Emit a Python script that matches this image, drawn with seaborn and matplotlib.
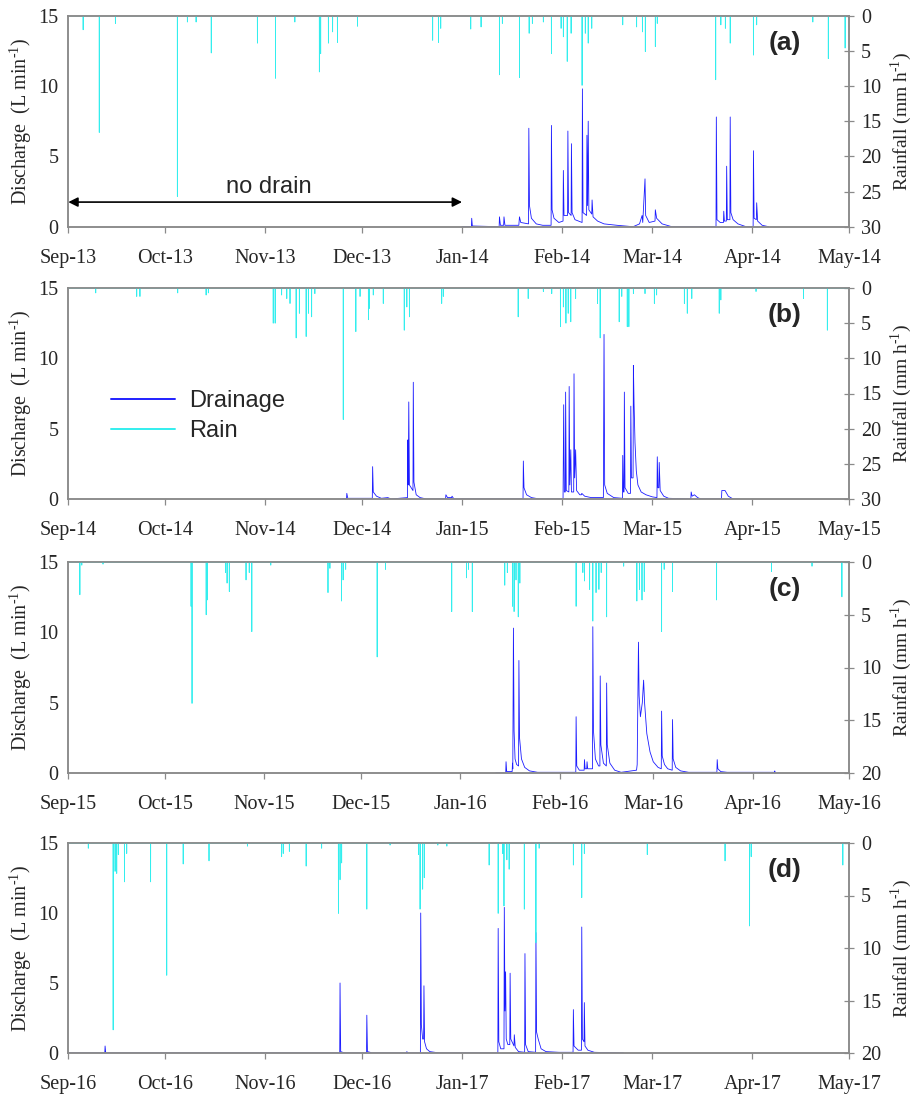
import numpy as np
import pandas as pd
import matplotlib
matplotlib.use("Agg")
import matplotlib.pyplot as plt
import matplotlib.dates as mdates
from matplotlib.lines import Line2D
import seaborn as sns

sns.set_style("white")
plt.rcParams["font.family"] = ["Liberation Serif", "DejaVu Serif"]
plt.rcParams["mathtext.fontset"] = "custom"
plt.rcParams["mathtext.rm"] = "Liberation Serif"

# ---------------- data (days since 1 Sep of each season) ----------------
season_start = ["2013-09-01", "2014-09-01", "2015-09-01", "2016-09-01"]
season_end = ["2014-05-01", "2015-05-01", "2016-05-01", "2017-05-01"]
panel_tags = ["(a)", "(b)", "(c)", "(d)"]
rain_max = [30, 30, 20, 20]

a_rain_day = [4.6, 9.6, 14.6, 33.8, 36.9, 39.6, 44.3, 58.6, 64.2, 70.2, 77.8, 78.2, 80.6, 81.9,
              83.4, 89.6, 112.9, 114.7, 115.4, 124.7, 127.9, 133.6, 134.5, 139.8, 142.8, 143.8,
              147.2, 149.7, 152.7, 153.4, 154.6, 155.8, 159.2, 160.2, 161.1, 162.2, 171.8, 176.1,
              177.9, 178.8, 181.9, 182.5, 200.6, 202.2, 203.6, 205.1, 212.3, 213.3, 230.7, 235.5, 240.7]
a_rain_mm = [2.0, 16.6, 1.1, 25.7, 0.9, 0.9, 5.3, 3.9, 8.9, 0.9, 8.0, 5.4, 3.9, 2.3,
             3.8, 1.5, 3.5, 3.8, 1.8, 1.9, 1.6, 8.4, 1.1, 8.8, 2.5, 1.1,
             0.9, 5.4, 1.8, 3.0, 6.5, 2.5, 9.9, 2.5, 3.9, 1.8, 1.3, 1.6,
             2.3, 5.1, 4.4, 1.1, 9.1, 1.3, 1.8, 3.9, 5.6, 1.3, 0.9, 6.1, 4.6]

b_rain_day = [8.5, 21.2, 22.2, 33.9, 42.7, 43.4, 63.5, 64.1, 66.1, 67.7, 68.7, 70.6, 71.6, 73.7,
              74.4, 75.4, 76.4, 85.2, 89.1, 90.4, 93.0, 93.3, 94.5, 97.6, 104.1, 104.9, 105.7,
              115.7, 116.2, 139.4, 142.5, 147.2, 149.8, 152.5, 153.4, 154.2, 154.9, 155.7, 157.2,
              164.0, 164.8, 170.7, 171.5, 173.2, 173.7, 175.1, 178.7, 181.6, 182.3, 190.9, 191.8,
              193.2, 201.7, 202.2, 213.1, 227.8, 235.2]
b_rain_mm = [0.7, 1.2, 1.2, 0.7, 1.0, 0.7, 5.0, 5.0, 1.0, 1.5, 2.2, 7.1, 3.6, 6.9,
             3.6, 4.1, 0.8, 18.7, 6.2, 1.2, 4.5, 2.9, 1.0, 2.2, 6.0, 2.7, 4.1,
             2.2, 1.2, 4.1, 1.5, 0.5, 0.8, 5.5, 2.7, 5.0, 3.6, 4.8, 1.5,
             2.2, 7.1, 4.8, 1.2, 5.5, 5.5, 0.8, 0.8, 2.2, 1.0, 2.2, 3.6,
             1.5, 3.6, 1.7, 0.5, 1.5, 6.0]

c_rain_day = [3.6, 4.2, 10.8, 38.2, 38.5, 42.9, 43.2, 48.9, 49.4, 50.1, 55.3, 56.3, 57.1, 63.0,
              80.8, 81.4, 85.0, 85.5, 86.3, 96.1, 98.7, 119.3, 123.9, 124.5, 125.7, 135.8, 136.6,
              138.2, 138.7, 139.3, 140.0, 140.5, 158.0, 160.1, 160.6, 162.2, 163.2, 164.2, 165.1,
              165.8, 167.5, 172.8, 176.9, 177.7, 178.5, 179.2, 184.6, 185.4, 188.0, 201.7, 218.8,
              231.4, 240.7]
c_rain_mm = [3.1, 0.3, 0.2, 4.2, 13.4, 5.0, 3.6, 1.0, 2.0, 2.8, 1.7, 1.0, 6.6, 0.3,
             2.9, 0.6, 3.7, 1.7, 0.7, 9.0, 0.7, 4.7, 1.5, 0.7, 4.7, 2.2, 1.0,
             4.2, 4.7, 1.7, 5.2, 2.0, 4.2, 1.0, 1.8, 2.6, 5.6, 2.9, 2.6,
             1.0, 5.2, 0.4, 3.7, 2.6, 3.6, 2.8, 6.6, 0.7, 2.8, 3.6, 0.9,
             0.4, 3.3]

d_rain_day = [6.2, 13.9, 14.5, 15.0, 15.5, 17.4, 18.1, 25.5, 30.5, 35.6, 43.6, 55.5, 66.1, 66.6,
              68.5, 73.7, 78.5, 83.7, 84.2, 84.7, 92.5, 99.7, 108.5, 109.0, 109.8, 110.3, 114.5,
              117.3, 130.4, 133.2, 134.6, 135.0, 135.9, 136.6, 141.3, 144.9, 145.9, 156.5, 159.1,
              159.9, 179.4, 203.5, 211.1, 211.6, 240.0]
d_rain_mm = [0.5, 17.8, 2.7, 2.9, 1.1, 3.7, 1.0, 3.7, 12.6, 2.0, 1.7, 0.3, 1.3, 1.0,
             0.8, 2.2, 0.5, 6.7, 3.5, 1.9, 6.3, 0.2, 1.1, 6.3, 4.4, 3.3, 0.2,
             0.3, 2.1, 6.7, 1.0, 6.0, 1.6, 2.5, 6.3, 9.5, 0.5, 2.1, 5.2,
             1.0, 1.1, 1.7, 7.9, 1.3, 2.1]

# drainage hydrograph points (day, discharge L/min)
a_drain = [(122.0, 0), (124.9, 0), (125.0, 0.6), (125.2, 0.05), (133.5, 0), (133.6, 0.7), (133.9, 0.1),
           (134.9, 0.1), (135.0, 0.7), (135.3, 0.1), (139.6, 0.1), (139.8, 0.7), (140.2, 0.3),
           (142.6, 0.2), (142.7, 7.0), (142.9, 1.5), (143.5, 0.6), (145, 0.2), (147, 0.1),
           (149.6, 0.1), (149.7, 7.2), (149.9, 1.2), (150.5, 0.6), (152, 0.3), (153.3, 0.4),
           (153.4, 4.0), (153.6, 0.8), (154.7, 0.8), (154.8, 6.8), (155.0, 1.0), (155.8, 0.8),
           (155.9, 5.9), (156.1, 1.0), (157, 0.5), (159.2, 0.3), (159.3, 9.8), (159.5, 1.0),
           (160.6, 0.8), (160.7, 6.5), (160.9, 1.5), (161.1, 7.5), (161.3, 1.2), (162.2, 0.9),
           (162.3, 1.9), (162.6, 0.7), (164, 0.4), (166, 0.2), (170, 0.1), (175, 0), (177.0, 0.2),
           (177.8, 0.8), (178.0, 0.3), (178.7, 3.4), (178.9, 0.8), (180, 0.3), (181.8, 0.4),
           (181.9, 1.2), (182.3, 0.6), (184, 0.2), (187, 0), (200.7, 0), (200.8, 7.8), (201.0, 0.5),
           (202, 0.3), (203.0, 0.3), (203.1, 1.1), (203.3, 0.4), (203.9, 0.4), (204.0, 4.3),
           (204.2, 0.5), (205.0, 0.5), (205.1, 7.8), (205.3, 1.0), (206, 0.5), (207.5, 0.2),
           (210, 0), (212.2, 0), (212.3, 5.4), (212.5, 0.6), (213.2, 0.5), (213.3, 1.7),
           (213.6, 0.4), (215, 0.1), (217, 0)]

b_drain = [(85.0, 0), (86.2, 0), (86.3, 0.4), (86.6, 0.05), (94.2, 0.05), (94.3, 2.3), (94.5, 0.5),
           (95.5, 0.2), (97, 0.05), (99.0, 0.1), (100, 0), (105.1, 0.1), (105.2, 4.2), (105.35, 1.0),
           (105.5, 6.9), (105.7, 1.0), (106.8, 0.6), (106.9, 8.3), (107.1, 1.2), (107.8, 0.3),
           (109, 0.1), (111, 0), (116.9, 0), (117.0, 0.3), (117.5, 0.1), (118.8, 0.1), (118.9, 0.2),
           (119.5, 0), (140.9, 0), (141.0, 2.7), (141.2, 0.8), (142, 0.3), (143.5, 0.1), (146, 0),
           (153.3, 0), (153.5, 6.7), (153.7, 0.5), (154.0, 0.5), (154.1, 7.6), (154.3, 0.6),
           (155.1, 0.5), (155.2, 8.0), (155.4, 1.0), (155.7, 3.5), (155.9, 0.5), (156.6, 0.5),
           (156.7, 8.9), (156.9, 1.5), (157.2, 3.5), (157.5, 0.6), (158.5, 0.3), (159.0, 0.3),
           (159.1, 0.4), (160, 0.2), (162, 0.1), (165.8, 0.1), (166.0, 11.7), (166.2, 1.0),
           (167, 0.4), (169, 0.1), (171.7, 0.05), (171.8, 3.1), (172.0, 0.5), (172.2, 0.5),
           (172.3, 7.6), (172.5, 0.8), (173.5, 0.4), (174.2, 0.4), (174.3, 6.6), (174.5, 1.5),
           (175.0, 1.5), (175.1, 9.5), (175.3, 6.8), (175.6, 4.0), (176, 2.0), (176.5, 1.0),
           (177.5, 0.5), (179, 0.3), (181, 0.15), (182.4, 0.1), (182.5, 3.0), (182.7, 0.8),
           (183.0, 0.8), (183.1, 2.6), (183.4, 0.6), (184.5, 0.2), (186, 0.05), (192.9, 0),
           (193.0, 0.5), (193.3, 0.2), (194, 0.3), (195, 0.1), (196, 0), (202.4, 0), (202.5, 0.6),
           (203.5, 0.6), (204.5, 0.2), (206, 0), (208, 0)]

c_drain = [(133, 0), (136.1, 0), (136.2, 0.8), (136.4, 0.1), (138.1, 0.1), (138.2, 0.7), (138.3, 0.3),
           (138.5, 10.3), (138.7, 3.0), (139.0, 1.0), (139.5, 0.6), (140.1, 0.5), (140.2, 8.0),
           (140.4, 2.5), (141, 1.0), (142, 0.4), (143.5, 0.15), (146, 0.05), (157.9, 0.05),
           (158.0, 4.0), (158.2, 0.5), (159, 0.2), (160.5, 0.2), (160.6, 0.95), (160.8, 0.3),
           (161.3, 0.3), (161.4, 0.8), (161.6, 0.3), (163.1, 0.3), (163.2, 10.4), (163.4, 3.0),
           (164, 1.0), (165, 0.5), (165.4, 0.5), (165.5, 6.9), (165.7, 2.0), (166.5, 0.7),
           (167.4, 0.5), (167.5, 6.4), (167.7, 2.0), (168.5, 0.7), (170, 0.2), (172, 0.05),
           (176.8, 0.2), (177.0, 0.6), (177.4, 9.3), (177.6, 5.5), (178, 4.0), (178.6, 5.0),
           (179.0, 6.6), (179.3, 5.0), (180, 2.8), (181, 1.5), (182, 0.8), (183.5, 0.4),
           (184.5, 0.3), (184.6, 4.4), (184.8, 1.2), (185.5, 0.6), (186.5, 0.3), (187.9, 0.2),
           (188.0, 3.8), (188.2, 1.0), (189, 0.4), (190.5, 0.15), (193, 0.05), (201.8, 0.05),
           (201.9, 0.95), (202.1, 0.3), (203, 0.1), (205, 0.05), (210, 0.05), (215, 0.05),
           (219.7, 0.05), (219.8, 0.15), (220, 0)]

d_drain = [(0, 0), (11.3, 0), (11.4, 0.5), (11.6, 0), (84.1, 0), (84.2, 5.0), (84.4, 0.1), (85, 0.05),
           (86, 0), (92.4, 0), (92.5, 2.7), (92.7, 0.1), (93.5, 0.05), (94, 0), (104.8, 0),
           (104.9, 0.1), (105.2, 0), (109.1, 0), (109.2, 10.0), (109.4, 2.0), (109.8, 1.0),
           (110.1, 1.0), (110.2, 4.8), (110.4, 0.8), (111, 0.3), (112, 0.1), (113.5, 0.05),
           (115, 0), (133.1, 0), (133.2, 8.9), (133.4, 0.8), (134, 0.3), (135.0, 0.3),
           (135.1, 10.4), (135.3, 3.0), (135.5, 5.8), (135.7, 1.0), (136.2, 0.6), (136.8, 0.6),
           (136.9, 5.7), (137.1, 1.0), (138.1, 0.5), (138.2, 1.3), (138.5, 0.4), (139.5, 0.1),
           (141.4, 0.05), (141.5, 7.1), (141.7, 0.6), (142.5, 0.1), (144.8, 0.05), (144.9, 8.6),
           (145.1, 1.5), (145.6, 1.0), (146.5, 0.3), (148, 0.1), (152, 0.05), (156.4, 0.05),
           (156.5, 3.1), (156.7, 0.5), (158, 0.2), (159.0, 0.2), (159.1, 9.0), (159.3, 1.0),
           (159.8, 0.8), (159.9, 3.6), (160.1, 0.5), (161, 0.2), (163, 0.05), (168, 0.02), (172, 0)]

rain_days = [a_rain_day, b_rain_day, c_rain_day, d_rain_day]
rain_vals = [a_rain_mm, b_rain_mm, c_rain_mm, d_rain_mm]
drains = [a_drain, b_drain, c_drain, d_drain]

DRAIN_COLOR = "#1c1cff"
RAIN_COLOR = "#33eeee"
SPINE = "#8a8a8a"

fig = plt.figure(figsize=(9.14, 10.98), dpi=100)
W, H = 914.0, 1098.0
boxes = [(15.7, 226.7), (288.0, 499.0), (562.0, 773.0), (843.0, 1053.0)]
left_px, right_px = 68.3, 849.3

for i in range(4):
    top, bot = boxes[i]
    ax = fig.add_axes([left_px / W, 1 - bot / H, (right_px - left_px) / W, (bot - top) / H])
    start = pd.Timestamp(season_start[i])
    end = pd.Timestamp(season_end[i])
    slen = (end - start).days

    # drainage
    dd = np.array([p[0] for p in drains[i]])
    dq = np.array([p[1] for p in drains[i]])
    ddates = start + pd.to_timedelta(dd, unit="D")
    sns.lineplot(x=ddates, y=dq, ax=ax, color=DRAIN_COLOR, lw=0.6,
                 estimator=None, sort=False)

    ax.set_xlim(start, end)
    ax.set_ylim(0, 15)
    ax.set_yticks([0, 5, 10, 15])
    ax.xaxis.set_major_locator(mdates.MonthLocator())
    ax.xaxis.set_major_formatter(mdates.DateFormatter("%b-%y"))
    ax.tick_params(axis="x", direction="out", length=4, width=0.9, color=SPINE, pad=12,
                   labelsize=14.5, bottom=True)
    ax.tick_params(axis="y", length=0, pad=7, labelsize=14.5)
    ax.set_ylabel(r"Discharge  (L min$^{\text{-1}}$)", fontsize=14.5, labelpad=3)
    ax.set_xlabel("")

    # rain on twin (inverted) axis
    rx, ry = [0.0], [0.0]
    for d, v in sorted(zip(rain_days[i], rain_vals[i])):
        rx += [d - 0.025, d, d + 0.025]
        ry += [0.0, v, 0.0]
    rx.append(float(slen))
    ry.append(0.0)
    ax2 = ax.twinx()
    rdates = start + pd.to_timedelta(np.array(rx), unit="D")
    sns.lineplot(x=rdates, y=np.array(ry), ax=ax2, color=RAIN_COLOR, lw=0.6,
                 estimator=None, sort=False)
    ax2.set_ylim(rain_max[i], 0)
    ax2.set_yticks(list(range(0, rain_max[i] + 1, 5)))
    ax2.tick_params(axis="y", direction="inout", length=7, width=0.9, color=SPINE, pad=5,
                    labelsize=14.5)
    ax2.set_ylabel(r"Rainfall (mm h$^{\text{-1}}$)", fontsize=14, labelpad=5)
    ax2.set_xlim(start, end)

    for a_ in (ax, ax2):
        for s in a_.spines.values():
            s.set_color(SPINE)
            s.set_linewidth(1.1)

    ax.text(0.917, 0.87, panel_tags[i], transform=ax.transAxes, ha="center", va="center",
            fontsize=19, fontweight="bold", family="Liberation Sans")

    if i == 0:
        ax.annotate("", xy=(pd.Timestamp("2014-01-01"), 1.75), xytext=(start, 1.75),
                    arrowprops=dict(arrowstyle="<|-|>", color="black", lw=1.2,
                                    mutation_scale=14, shrinkA=0, shrinkB=0))
        ax.text(pd.Timestamp("2013-11-02"), 2.05, "no drain", ha="center", va="bottom",
                fontsize=17, family="Liberation Sans")
    if i == 1:
        handles = [Line2D([], [], color="#2020ff", lw=1.4),
                   Line2D([], [], color=RAIN_COLOR, lw=1.4)]
        ax.legend(handles, ["Drainage", "Rain"], loc="upper left",
                  bbox_to_anchor=(0.055, 0.517), frameon=False, borderpad=0,
                  borderaxespad=0, handlelength=2.7, handletextpad=0.6,
                  labelspacing=0.35, prop={"family": "Liberation Sans", "size": 17})

fig.savefig("out.png", dpi=100)
